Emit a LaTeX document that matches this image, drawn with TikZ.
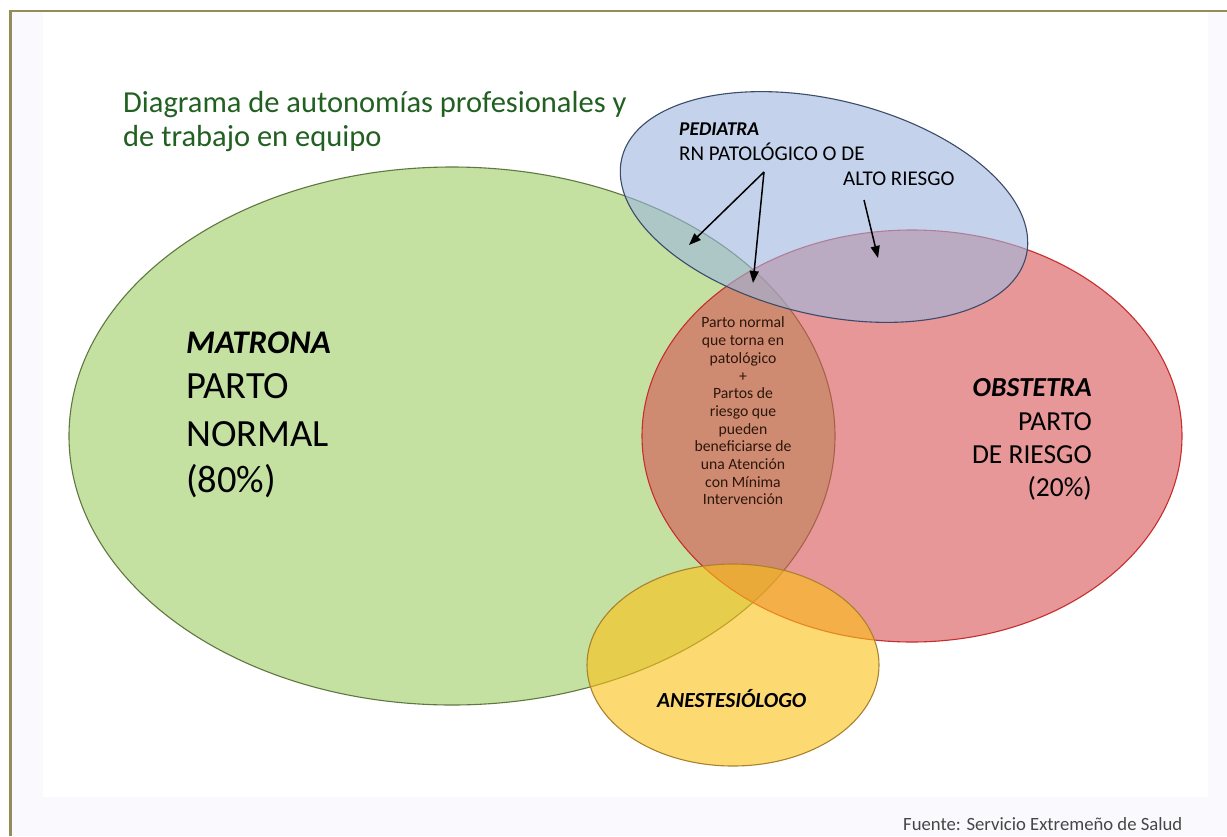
\documentclass[tikz,border=0pt]{standalone}
\usepackage{fontspec}
\setmainfont{Carlito}
\usetikzlibrary{shapes.geometric,arrows.meta}
\definecolor{frameol}{RGB}{150,140,90}
\definecolor{bgtint}{RGB}{250,249,254}
\definecolor{titlegreen}{RGB}{34,96,34}
\definecolor{gfill}{RGB}{158,205,100}
\definecolor{gline}{RGB}{95,120,65}
\definecolor{rfill}{RGB}{215,83,83}
\definecolor{rline}{RGB}{200,45,45}
\definecolor{bfill}{RGB}{157,183,223}
\definecolor{bline}{RGB}{60,75,105}
\definecolor{yfill}{RGB}{253,192,20}
\definecolor{yline}{RGB}{170,130,45}
\definecolor{midtext}{RGB}{45,22,10}
\definecolor{foot}{RGB}{70,70,70}
\tikzset{
  venn/.style={ellipse, inner sep=0pt, fill opacity=0.6, line width=1.1pt},
  lbl/.style={inner sep=0pt, anchor=base west, text=black},
  arr/.style={line width=1.5pt, -{Triangle[length=12pt,width=9pt]}},
}
\begin{document}
\begin{tikzpicture}[x=1pt,y=-1pt]
\useasboundingbox (0,0) rectangle (1227,836);
\clip (0,0) rectangle (1227,836);
\fill[white] (0,0) rectangle (1227,836);
\fill[bgtint] (10,11) rectangle (1227,836);
\fill[white] (43,12) rectangle (1208,797);
\draw[frameol, line width=2.5pt] (10.5,836) -- (10.5,11) -- (1227,11);

% ellipses
\node[venn, fill=gfill, draw=gline, minimum width=766pt, minimum height=538pt] (matrona) at (452,436) {};
\node[venn, fill=rfill, draw=rline, minimum width=540pt, minimum height=412pt] (obstetra) at (912,436) {};
\node[venn, fill=yfill, draw=yline, minimum width=292pt, minimum height=202pt] (anest) at (733,665) {};
\node[venn, fill=bfill, draw=bline, minimum width=416pt, minimum height=215pt, rotate=-13.6] (pediatra) at (824,207) {};

% title
\node[lbl, text=titlegreen, font=\fontsize{30.5}{36}\selectfont] (title1) at (123,112) {Diagrama de autonomías profesionales y};
\node[lbl, text=titlegreen, font=\fontsize{30.5}{36}\selectfont] (title2) at (123,146) {de trabajo en equipo};

% matrona
\node[lbl, font=\fontsize{33}{38}\selectfont\bfseries\itshape] (m1) at (186,353) {MATRONA};
\node[lbl, font=\fontsize{38.5}{44}\selectfont] (m2) at (186,398) {PARTO};
\node[lbl, font=\fontsize{38.5}{44}\selectfont] (m3) at (186,446) {NORMAL};
\node[lbl, font=\fontsize{38.5}{44}\selectfont] (m4) at (186,492) {(80\%)};

% obstetra
\node[lbl, anchor=base east, font=\fontsize{27.5}{33}\selectfont\bfseries\itshape] (o1) at (1092,396) {OBSTETRA};
\node[lbl, anchor=base east, font=\fontsize{27.5}{33}\selectfont] (o2) at (1092,430) {PARTO};
\node[lbl, anchor=base east, font=\fontsize{27.5}{33}\selectfont] (o3) at (1092,463) {DE RIESGO};
\node[lbl, anchor=base east, font=\fontsize{27.5}{33}\selectfont] (o4) at (1092,496) {(20\%)};

% pediatra
\node[lbl, font=\fontsize{19.5}{23}\selectfont\bfseries\itshape] (p1) at (679,135) {PEDIATRA};
\node[lbl, font=\fontsize{21}{24}\selectfont] (p2) at (679,160) {RN PATOLÓGICO O DE};
\node[lbl, font=\fontsize{21}{24}\selectfont] (p3) at (843,185) {ALTO RIESGO};

% centre text
\node[inner sep=0pt, align=center, text=midtext, font=\fontsize{15.7}{17.7}\selectfont] (mid) at (743,411)
  {Parto normal\\que torna en\\patológico\\+\\Partos de\\riesgo que\\pueden\\beneficiarse de\\una Atención\\con Mínima\\Intervención};

% anestesiologo
\node[lbl, font=\fontsize{21.5}{25}\selectfont\bfseries\itshape] (a1) at (657,707) {ANESTESIÓLOGO};

% arrows
\coordinate (srcA) at (764,172);
\coordinate (tipA) at (689,245);
\coordinate (tipB) at (753,283);
\coordinate (srcC) at (864,200);
\coordinate (tipC) at (878,258);
\draw[arr] (srcA) -- (tipA);
\draw[arr] (srcA) -- (tipB);
\draw[arr] (srcC) -- (tipC);

% footer
\node[lbl, text=foot, font=\fontsize{18.7}{22}\selectfont] (fuente) at (903,830) {Fuente: Servicio Extremeño de Salud};
\end{tikzpicture}
\end{document}
